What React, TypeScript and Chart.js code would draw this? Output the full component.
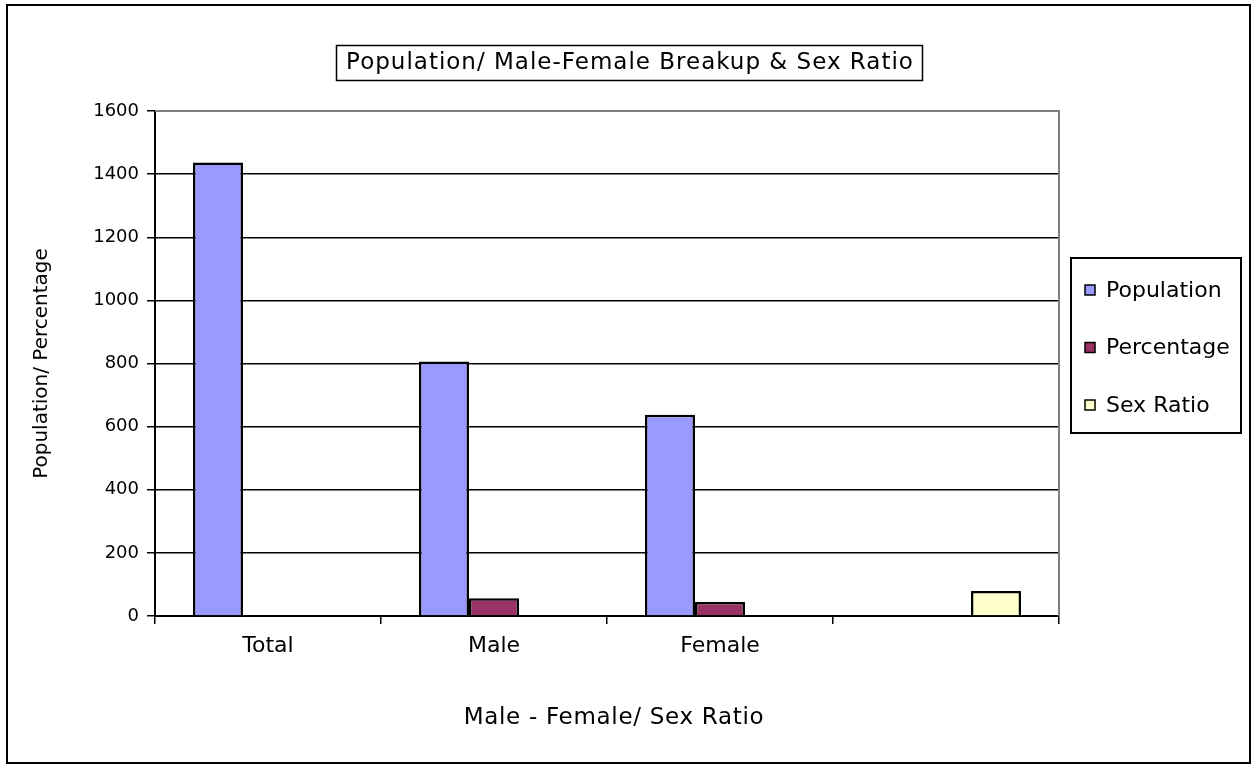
import React, { useEffect, useRef } from 'react';
import { Chart, registerables } from 'chart.js';

Chart.register(...registerables);

const categories = ['Total', 'Male', 'Female', ''];
const population = [1437, 806, 638, null];
const percentage = [null, 56, 44, null];
const sexRatio = [null, null, null, 79];
const seriesNames = ['Population', 'Percentage', 'Sex Ratio'];
const seriesColors = ['#9999FF', '#993366', '#FFFFCC'];
const yMin = 0;
const yMax = 1600;
const yStep = 200;
const chartTitle = 'Population/ Male-Female Breakup & Sex Ratio';
const xTitle = 'Male - Female/ Sex Ratio';
const yTitle = 'Population/ Percentage';

const W = 1252;
const H = 765;
const FONT = "'DejaVu Sans', Verdana, sans-serif";

const framePlugin = {
  id: 'frame',
  beforeDraw(chart: any) {
    const ctx = chart.ctx;
    ctx.save();
    ctx.fillStyle = '#ffffff';
    ctx.fillRect(0, 0, chart.width, chart.height);
    ctx.restore();
  },
  beforeDatasetsDraw(chart: any) {
    const { ctx, chartArea } = chart;
    ctx.save();
    ctx.strokeStyle = '#808080';
    ctx.lineWidth = 2;
    ctx.beginPath();
    ctx.moveTo(chartArea.left, chartArea.top);
    ctx.lineTo(chartArea.right, chartArea.top);
    ctx.lineTo(chartArea.right, chartArea.bottom);
    ctx.stroke();
    ctx.restore();
  },
  afterDraw(chart: any) {
    const ctx = chart.ctx;
    const { chartArea } = chart;
    ctx.save();
    // outer frame
    ctx.strokeStyle = '#000000';
    ctx.lineWidth = 2;
    ctx.strokeRect(7, 5, 1243, 758);

    // title box
    ctx.lineWidth = 1.5;
    ctx.strokeRect(336.5, 45.5, 586, 35);
    ctx.fillStyle = '#000000';
    ctx.font = `23px ${FONT}`;
    ctx.textAlign = 'center';
    ctx.textBaseline = 'middle';
    (ctx as any).letterSpacing = '1px';
    ctx.fillText(chartTitle, 630, 63.5);

    // x axis title
    (ctx as any).letterSpacing = '0.7px';
    ctx.fillText(xTitle, (chartArea.left + chartArea.right) / 2 + 7, 718);
    (ctx as any).letterSpacing = '0px';

    // legend box
    ctx.lineWidth = 2;
    ctx.strokeRect(1071, 258, 170, 175);
    ctx.font = `22px ${FONT}`;
    ctx.textAlign = 'left';
    chart.data.datasets.forEach((ds: any, i: number) => {
      const cy = 290 + i * 57.5;
      ctx.fillStyle = ds.backgroundColor;
      ctx.fillRect(1085, cy - 5, 10, 10);
      ctx.lineWidth = 1.5;
      ctx.strokeStyle = '#000000';
      ctx.strokeRect(1085, cy - 5, 10, 10);
      ctx.fillStyle = '#000000';
      ctx.fillText(ds.label, 1106, cy + 1);
    });
    ctx.restore();
  },
};

export default function App() {
  const ref = useRef<HTMLCanvasElement | null>(null);

  useEffect(() => {
    if (!ref.current) return;
    const seriesData = [population, percentage, sexRatio];
    const chart = new Chart(ref.current, {
      type: 'bar',
      data: {
        labels: categories,
        datasets: seriesNames.map((name, i) => ({
          label: name,
          data: seriesData[i] as any,
          backgroundColor: seriesColors[i],
          borderColor: '#000000',
          borderWidth: 2.5,
          barPercentage: 1,
          categoryPercentage: 0.664,
        })),
      },
      options: {
        responsive: false,
        animation: false,
        devicePixelRatio: 1,
        layout: { padding: { left: 20, top: 111, right: W - 1059, bottom: 30 } },
        plugins: {
          legend: { display: false },
          title: { display: false },
          tooltip: { enabled: false },
        },
        scales: {
          x: {
            offset: true,
            grid: {
              offset: true,
              drawOnChartArea: false,
              drawTicks: true,
              tickLength: 8,
              color: '#000000',
              lineWidth: 1.5,
            },
            border: { display: true, color: '#000000', width: 2 },
            ticks: {
              color: '#000000',
              font: { family: FONT, size: 22 },
              padding: 9,
              maxRotation: 0,
              autoSkip: false,
            },
            title: { display: false, text: xTitle },
            afterFit(scale: any) {
              scale.height = H - 616 - 30;
            },
          },
          y: {
            min: yMin,
            max: yMax,
            ticks: {
              stepSize: yStep,
              color: '#000000',
              font: { family: FONT, size: 18 },
              padding: 8,
              callback: (v: any) => String(v),
            },
            grid: {
              color: '#000000',
              lineWidth: 1.5,
              tickColor: '#000000',
              tickLength: 8,
              drawTicks: true,
            },
            border: { display: true, color: '#000000', width: 2 },
            title: {
              display: true,
              text: yTitle,
              color: '#000000',
              font: { family: FONT, size: 20 },
              padding: { top: 10, bottom: 0 },
            },
            afterFit(scale: any) {
              scale.width = 155 - 20;
            },
          },
        },
      },
      plugins: [framePlugin],
    });
    return () => chart.destroy();
  }, []);

  return (
    <div style={{ position: 'absolute', left: 0, top: 0, width: W, height: H }}>
      <canvas ref={ref} width={W} height={H} style={{ display: 'block', width: W, height: H }} />
    </div>
  );
}
